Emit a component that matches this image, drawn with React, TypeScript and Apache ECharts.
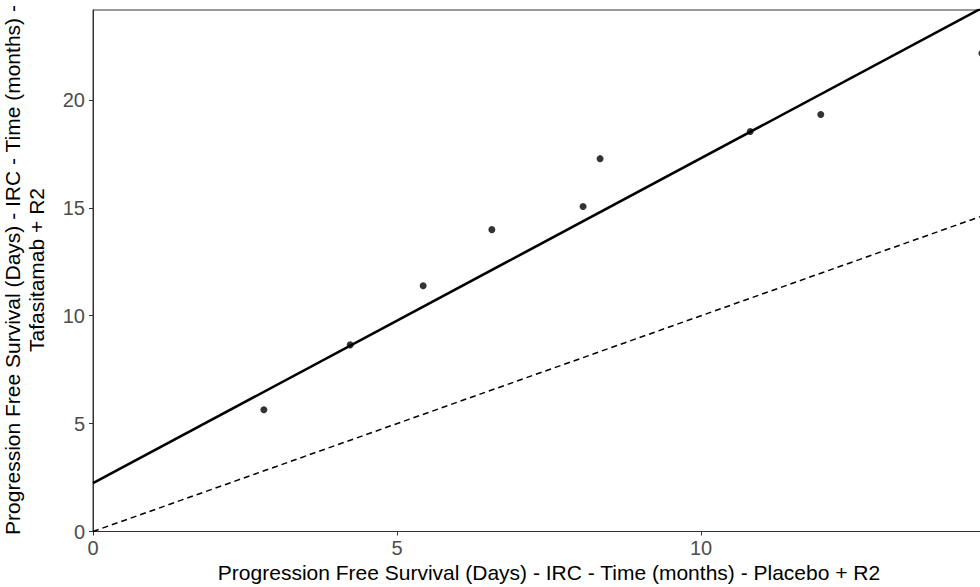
import React, { useEffect, useRef } from "react";
import * as echarts from "echarts";

const xValues = [2.81, 4.23, 5.43, 6.56, 8.06, 8.34, 10.81, 11.97, 14.62];
const yValues = [5.64, 8.65, 11.39, 13.99, 15.06, 17.28, 18.54, 19.33, 22.16];
const fitIntercept = 2.24;
const fitSlope = 1.506;
const xMax = 15;
const yMax = 24.17;
const xTitle = "Progression Free Survival (Days) - IRC - Time (months) - Placebo + R2";
const yTitleLines = ["Progression Free Survival (Days) - IRC - Time (months) -", "Tafasitamab + R2"];

export default function App() {
  const ref = useRef<HTMLDivElement>(null);
  useEffect(() => {
    document.body.style.margin = "0";
    document.body.style.overflow = "hidden";
    document.documentElement.style.overflow = "hidden";
    const chart = echarts.init(ref.current!, null, { renderer: "svg" });
    const points = xValues.map((x, i) => [x, yValues[i]]);
    const fitLine = [
      [0, fitIntercept],
      [xMax, fitIntercept + fitSlope * xMax],
    ];
    const identity = [
      [0, 0],
      [xMax, xMax],
    ];
    const font = "Liberation Sans, Arial, sans-serif";
    chart.setOption({
      animation: false,
      grid: {
        left: 93,
        top: 10,
        bottom: 55.5,
        right: 0,
        show: true,
        borderColor: "#333",
        borderWidth: 1,
        containLabel: false,
        outerBoundsMode: "none",
      },
      xAxis: {
        type: "value",
        min: 0,
        max: xMax,
        interval: 5,
        name: xTitle,
        nameLocation: "middle",
        nameGap: 24,
        nameTextStyle: { color: "#000", fontSize: 21, fontFamily: font },
        axisLine: { show: true, onZero: false, lineStyle: { color: "#333", width: 1 } },
        axisTick: { show: true, length: 4, lineStyle: { color: "#333" } },
        axisLabel: { color: "#4D4D4D", fontSize: 20, fontFamily: font, margin: 6, showMaxLabel: false },
        splitLine: { show: false },
      },
      yAxis: {
        type: "value",
        min: 0,
        max: yMax,
        interval: 5,
        axisLine: { show: true, onZero: false, lineStyle: { color: "#333", width: 1 } },
        axisTick: { show: true, length: 4, lineStyle: { color: "#333" } },
        axisLabel: { color: "#4D4D4D", fontSize: 20, fontFamily: font, margin: 8, showMaxLabel: false },
        splitLine: { show: false },
      },
      graphic: [
        {
          type: "text",
          x: 24,
          y: 270,
          rotation: Math.PI / 2,
          style: {
            text: yTitleLines.join("\n"),
            fill: "#000",
            font: `21px ${font}`,
            lineHeight: 24,
            align: "center",
            verticalAlign: "middle",
          },
        },
      ],
      series: [
        {
          type: "line",
          data: identity,
          symbol: "none",
          clip: true,
          lineStyle: { color: "#000", width: 1.5, type: [6, 4] },
        },
        {
          type: "line",
          data: fitLine,
          symbol: "none",
          clip: true,
          lineStyle: { color: "#000", width: 2.6 },
        },
        {
          type: "scatter",
          data: points,
          symbol: "circle",
          symbolSize: 7,
          clip: true,
          itemStyle: { color: "#000" },
        },
      ],
    });
    return () => chart.dispose();
  }, []);
  return <div ref={ref} style={{ width: 1005, height: 587 }} />;
}
